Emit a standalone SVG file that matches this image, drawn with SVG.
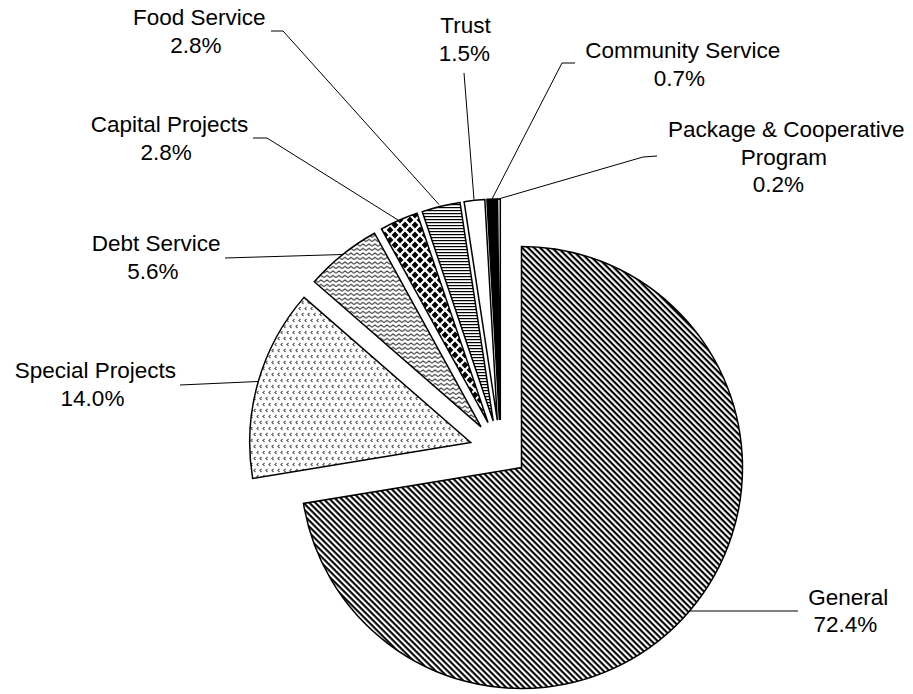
<svg xmlns="http://www.w3.org/2000/svg" width="913" height="694" viewBox="0 0 913 694">
<style>
.sl{stroke:#000;stroke-width:1.5;stroke-linejoin:miter}
.ld{fill:none;stroke:#000;stroke-width:1}
text{font-family:"Liberation Sans",Arial,sans-serif;font-size:22.5px;fill:#000;text-anchor:middle}
</style>
<defs>
<pattern id="pGen" patternUnits="userSpaceOnUse" width="4.24" height="4.24" patternTransform="rotate(45)">
<rect width="4.24" height="4.24" fill="#fff"/>
<rect width="4.24" height="2.1" fill="#000"/>
</pattern>
<pattern id="pSpec" patternUnits="userSpaceOnUse" width="6" height="12">
<rect width="6" height="12" fill="#fff"/>
<path d="M3.5,1 L2,2.5 L3.5,4 M0.5,7 L-1,8.5 L0.5,10 M6.5,7 L5,8.5 L6.5,10" stroke="#555" stroke-width="1.2" fill="none"/>
</pattern>
<pattern id="pDebt" patternUnits="userSpaceOnUse" width="6" height="4.5">
<rect width="6" height="4.5" fill="#fff"/>
<path d="M0,3.2 L3,1 L6,3.2" stroke="#333" stroke-width="1.1" fill="none"/>
</pattern>
<pattern id="pCap" patternUnits="userSpaceOnUse" width="10" height="10">
<rect width="10" height="10" fill="#fff"/>
<path d="M5,1.6 L8.4,5 L5,8.4 L1.6,5Z M0,-3.4 L3.4,0 L0,3.4 L-3.4,0Z M10,-3.4 L13.4,0 L10,3.4 L6.6,0Z M0,6.6 L3.4,10 L0,13.4 L-3.4,10Z M10,6.6 L13.4,10 L10,13.4 L6.6,10Z" fill="#000"/>
</pattern>
<pattern id="pFood" patternUnits="userSpaceOnUse" width="6" height="3">
<rect width="6" height="3" fill="#fff"/>
<rect width="6" height="1.2" fill="#000"/>
</pattern>
</defs>
<rect width="913" height="694" fill="#fff"/>
<g id="slice-general"><path class="sl" fill="url(#pGen)" d="M521.5,467.5 L521.5,246.5 A221,221 0 1 1 303.44,503.44 Z"/></g>
<g id="slice-special"><path class="sl" fill="url(#pSpec)" d="M470.7,442.5 L252.64,478.44 A221,221 0 0 1 304.03,297.37 Z"/></g>
<g id="slice-debt"><path class="sl" fill="url(#pDebt)" d="M481,426.9 L314.33,281.77 A221,221 0 0 1 374.53,233.24 Z"/></g>
<g id="slice-capital"><path class="sl" fill="url(#pCap)" d="M488,422.6 L381.53,228.94 A221,221 0 0 1 417.06,213.3 Z"/></g>
<g id="slice-food"><path class="sl" fill="url(#pFood)" d="M493.2,420.9 L422.26,211.6 A221,221 0 0 1 460,202.41 Z"/></g>
<g id="slice-trust"><path class="sl" fill="#fff" d="M497.3,420.2 L464.1,201.71 A221,221 0 0 1 484.81,199.55 Z"/></g>
<g id="slice-community"><path class="sl" fill="#000" d="M499.4,420 L486.91,199.35 A221,221 0 0 1 496.62,199.02 Z"/></g>
<g id="slice-package"><path class="sl" fill="#fff" d="M500.3,420 L497.52,199.02 A221,221 0 0 1 500.3,199 Z"/></g>
<g id="connectors">
<polyline class="ld" points="271,31 283,31 439,204.5"/>
<polyline class="ld" points="253,138 267,138 398,220"/>
<polyline class="ld" points="464,73 474,199.5"/>
<polyline class="ld" points="575,63 562,63 492,199"/>
<polyline class="ld" points="657,156 643,157 498.5,199"/>
<polyline class="ld" points="225,258 342.5,254.5"/>
<polyline class="ld" points="180,385 258,381.5"/>
<polyline class="ld" points="690,611 798,611"/>
</g>
<g id="label-food"><text x="199.2" y="25">Food Service</text><text x="195.8" y="52.7">2.8%</text></g>
<g id="label-capital"><text x="169.6" y="132.3">Capital Projects</text><text x="166.2" y="159.5">2.8%</text></g>
<g id="label-trust"><text x="465.5" y="33.3">Trust</text><text x="464.5" y="61.3">1.5%</text></g>
<g id="label-community"><text x="682.8" y="58.3">Community Service</text><text x="679.5" y="85.7">0.7%</text></g>
<g id="label-package"><text x="786.3" y="136.7">Package &amp; Cooperative</text><text x="783.8" y="164.5">Program</text><text x="778.3" y="192.3">0.2%</text></g>
<g id="label-debt"><text x="156.2" y="250.7">Debt Service</text><text x="153" y="279">5.6%</text></g>
<g id="label-special"><text x="95.3" y="378.3">Special Projects</text><text x="92.5" y="406">14.0%</text></g>
<g id="label-general"><text x="848.3" y="605">General</text><text x="845.3" y="632.3">72.4%</text></g>
</svg>
